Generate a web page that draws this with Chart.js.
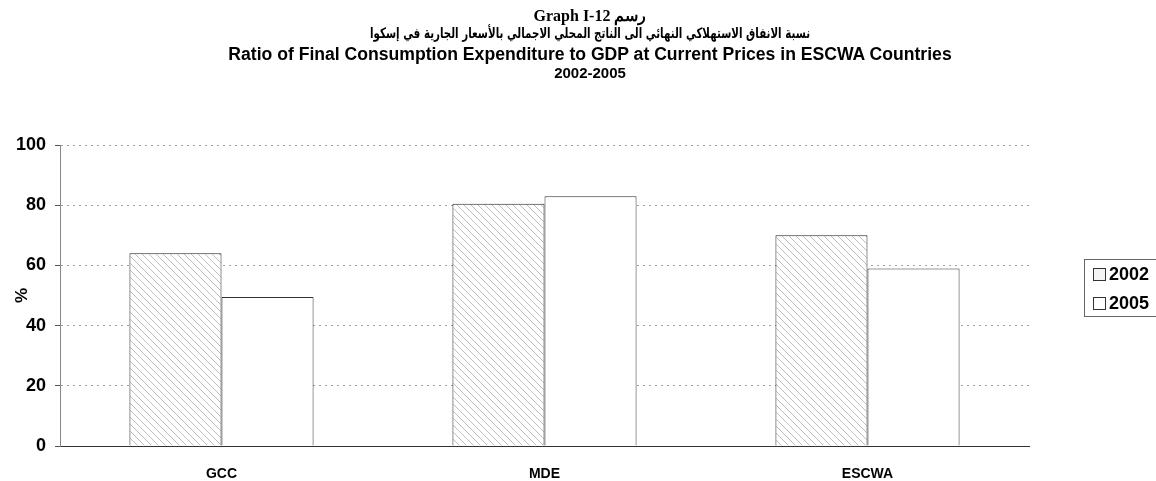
<!DOCTYPE html>
<html>
<head>
<meta charset="utf-8">
<script src="https://cdn.jsdelivr.net/npm/chart.js@4/dist/chart.umd.min.js"></script>
<style>
  html, body { margin: 0; padding: 0; background: #fff; }
  #wrap { position: relative; width: 1156px; height: 481px; }
  #chart { position: absolute; left: 0; top: 0; }
  .t { position: absolute; left: 190px; width: 800px; text-align: center; color: #000; font-weight: bold; white-space: nowrap; }
  #t1 { top: 6px; font-family: "Liberation Serif", "DejaVu Serif", serif; font-size: 16px; }
  #t2 { top: 25px; font-family: "DejaVu Sans", "Liberation Sans", sans-serif; font-size: 14.5px; transform: scaleX(0.71); }
  #t3 { top: 44px; font-family: "Liberation Sans", Arial, sans-serif; font-size: 17.6px; }
  #t4 { top: 64px; font-family: "Liberation Sans", Arial, sans-serif; font-size: 15px; }
</style>
</head>
<body>
<div id="wrap">
  <canvas id="chart" width="1156" height="481"></canvas>
  <div class="t" id="t1">Graph I-12 رسم</div>
  <div class="t" id="t2" dir="rtl">نسبة الانفاق الاستهلاكي النهائي  الى الناتج المحلي الاجمالي بالأسعار الجارية في إسكوا</div>
  <div class="t" id="t3">Ratio of Final Consumption Expenditure to GDP at Current Prices in ESCWA Countries</div>
  <div class="t" id="t4">2002-2005</div>
</div>
<script>
const categories = ["GCC", "MDE", "ESCWA"];
const values2002 = [64, 80.5, 70];
const values2005 = [49.5, 83, 59];
const yTicks = [0, 20, 40, 60, 80, 100];

const FONT = "'Liberation Sans', Arial, sans-serif";

function makeHatch() {
  const c = document.createElement("canvas");
  c.width = 7;
  c.height = 7;
  const g = c.getContext("2d");
  g.fillStyle = "#ffffff";
  g.fillRect(0, 0, 7, 7);
  g.strokeStyle = "#bdbdbd";
  g.lineWidth = 1;
  g.beginPath();
  g.moveTo(-1, -1);
  g.lineTo(8, 8);
  g.moveTo(-8, -1);
  g.lineTo(1, 8);
  g.moveTo(6, -1);
  g.lineTo(15, 8);
  g.stroke();
  return g.createPattern(c, "repeat");
}

// legend drawn in a box at the right, items come from the datasets
const boxLegend = {
  id: "boxLegend",
  afterDraw(chart) {
    const ctx = chart.ctx;
    const left = 1084;
    const top = 259;
    ctx.save();
    ctx.strokeStyle = "#666";
    ctx.lineWidth = 1;
    ctx.strokeRect(left + 0.5, top + 0.5, 100, 57);
    ctx.font = "bold 18px " + FONT;
    ctx.textBaseline = "middle";
    chart.data.datasets.forEach((ds, i) => {
      const cy = top + 15 + i * 29;
      ctx.fillStyle = ds.legendFill || "#fff";
      ctx.fillRect(left + 9, cy - 6, 12, 12);
      ctx.strokeStyle = "#333";
      ctx.strokeRect(left + 9.5, cy - 5.5, 12, 12);
      ctx.fillStyle = "#000";
      ctx.fillText(ds.label, left + 25, cy + 1);
    });
    ctx.restore();
  },
};

window.addEventListener("DOMContentLoaded", function () {
  const ctx = document.getElementById("chart").getContext("2d");
  new Chart(ctx, {
    type: "bar",
    data: {
      labels: categories,
      datasets: [
        {
          label: "2002",
          data: values2002,
          backgroundColor: makeHatch(),
          legendFill: "#f4f4f4",
          borderColor: "#222",
          borderWidth: 1,
        },
        {
          label: "2005",
          data: values2005,
          backgroundColor: "#ffffff",
          borderColor: "#333",
          borderWidth: 1,
        },
      ],
    },
    plugins: [boxLegend],
    options: {
      responsive: false,
      animation: false,
      events: [],
      layout: { padding: { top: 145, right: 127, left: 0, bottom: 0 } },
      datasets: {
        bar: { categoryPercentage: 0.57, barPercentage: 1.0 },
      },
      plugins: {
        legend: { display: false },
        tooltip: { enabled: false },
        title: { display: false },
      },
      scales: {
        x: {
          grid: { display: false },
          border: { display: true, color: "#333", width: 1 },
          ticks: {
            color: "#000",
            font: { family: FONT, size: 14, weight: "bold" },
            padding: 12,
          },
          afterFit(scale) {
            scale.height = 35;
          },
        },
        y: {
          min: 0,
          max: 100,
          afterBuildTicks(scale) {
            scale.ticks = yTicks.map((v) => ({ value: v }));
          },
          grid: {
            color: (c) => (c.tick && c.tick.value === 0 ? "rgba(0,0,0,0)" : "#a0a0a0"),
            lineWidth: 1,
            drawTicks: true,
            tickLength: 5,
            tickColor: "#555",
            tickBorderDash: [],
          },
          border: { display: true, color: "#888", width: 1, dash: [2, 4] },
          ticks: {
            color: "#000",
            font: { family: FONT, size: 18, weight: "bold" },
            padding: 9,
          },
          title: {
            display: true,
            text: "%",
            color: "#000",
            font: { family: FONT, size: 17, weight: "bold" },
            padding: { top: 12, bottom: 0 },
          },
          afterFit(scale) {
            scale.width = 60;
          },
        },
      },
    },
  });
});
</script>
</body>
</html>
